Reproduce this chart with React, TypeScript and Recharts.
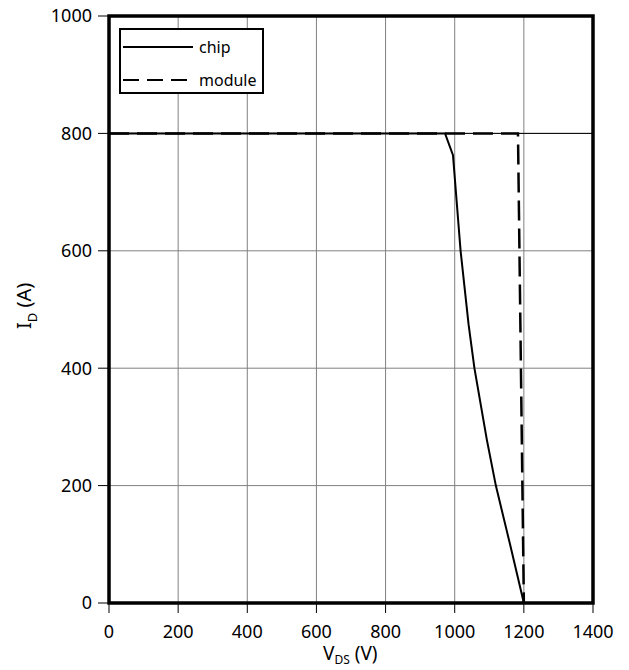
import {
  CartesianGrid,
  Line,
  LineChart,
  ReferenceArea,
  ReferenceLine,
  XAxis,
  YAxis
} from "recharts";

const xTicks = [0, 200, 400, 600, 800, 1000, 1200, 1400];
const yTicks = [0, 200, 400, 600, 800, 1000];

const chipV = [0, 972, 995, 1017, 1040, 1057, 1093, 1119, 1160, 1200];
const chipI = [800, 800, 763, 600, 475, 400, 278, 200, 100, 0];

const moduleV = [0, 1183, 1200];
const moduleI = [800, 800, 0];

const chipData = chipV.map((v, k) => ({ v, i: chipI[k] }));
const moduleData = moduleV.map((v, k) => ({ v, i: moduleI[k] }));

const font = "'Noto Sans', sans-serif";

function XTitle() {
  return (
    <text x={323} y={660} fontSize={19} fontFamily={font} fill="#000">
      V<tspan dy={4} fontSize={12}>DS</tspan>
      <tspan dy={-4}> (V)</tspan>
    </text>
  );
}

function YTitle() {
  return (
    <text x={0} y={0} fontSize={20} fontFamily={font} fill="#000" transform="translate(31 329) rotate(-90)">
      I<tspan dy={6} fontSize={13}>D</tspan>
      <tspan dy={-6}> (A)</tspan>
    </text>
  );
}

function LegendBox() {
  const row = (label: string, dash?: string) => (
    <div style={{ display: "flex", alignItems: "center", height: 33 }}>
      <svg width={74} height={10} style={{ display: "block" }}>
        <line x1={2} x2={72} y1={5} y2={5} stroke="#000" strokeWidth={2} strokeDasharray={dash} />
      </svg>
      <span style={{ marginLeft: 4, fontSize: 16 }}>{label}</span>
    </div>
  );
  return (
    <div
      style={{
        position: "absolute",
        left: 119,
        top: 28,
        width: 141,
        height: 62,
        border: "2px solid #000",
        background: "#fff",
        fontFamily: font,
        boxSizing: "content-box"
      }}
    >
      {row("chip")}
      {row("module", "16 8")}
    </div>
  );
}

export default function App() {
  return (
    <div style={{ position: "absolute", left: 0, top: 0, width: 629, height: 670, background: "#fff" }}>
      <LineChart width={629} height={670} margin={{ top: 16, right: 36, bottom: 0, left: 0 }}>
        <CartesianGrid stroke="#808080" strokeWidth={1} />
        <XAxis
          dataKey="v"
          type="number"
          domain={[0, 1400]}
          ticks={xTicks}
          height={67}
          axisLine={false}
          tickSize={10}
          tickMargin={12}
          tickLine={{ stroke: "#000" }}
          tick={{ fill: "#000", fontSize: 18, fontFamily: font }}
          label={{ content: () => <XTitle /> }}
        />
        <YAxis
          dataKey="i"
          type="number"
          domain={[0, 1000]}
          ticks={yTicks}
          width={109}
          axisLine={false}
          tickSize={11}
          tickMargin={6}
          tickLine={{ stroke: "#000" }}
          tick={{ fill: "#000", fontSize: 18, fontFamily: font }}
          label={{ content: () => <YTitle /> }}
        />
        <ReferenceLine y={800} stroke="#000" strokeWidth={1} />
        <Line
          data={chipData}
          dataKey="i"
          type="linear"
          stroke="#000"
          strokeWidth={2}
          dot={false}
          isAnimationActive={false}
        />
        <Line
          data={moduleData}
          dataKey="i"
          type="linear"
          stroke="#000"
          strokeWidth={2.5}
          strokeDasharray="20 8"
          dot={false}
          isAnimationActive={false}
        />
        <ReferenceArea x1={0} x2={1400} y1={0} y2={1000} fill="none" stroke="#000" strokeWidth={3.5} ifOverflow="visible" />
      </LineChart>
      <LegendBox />
    </div>
  );
}
